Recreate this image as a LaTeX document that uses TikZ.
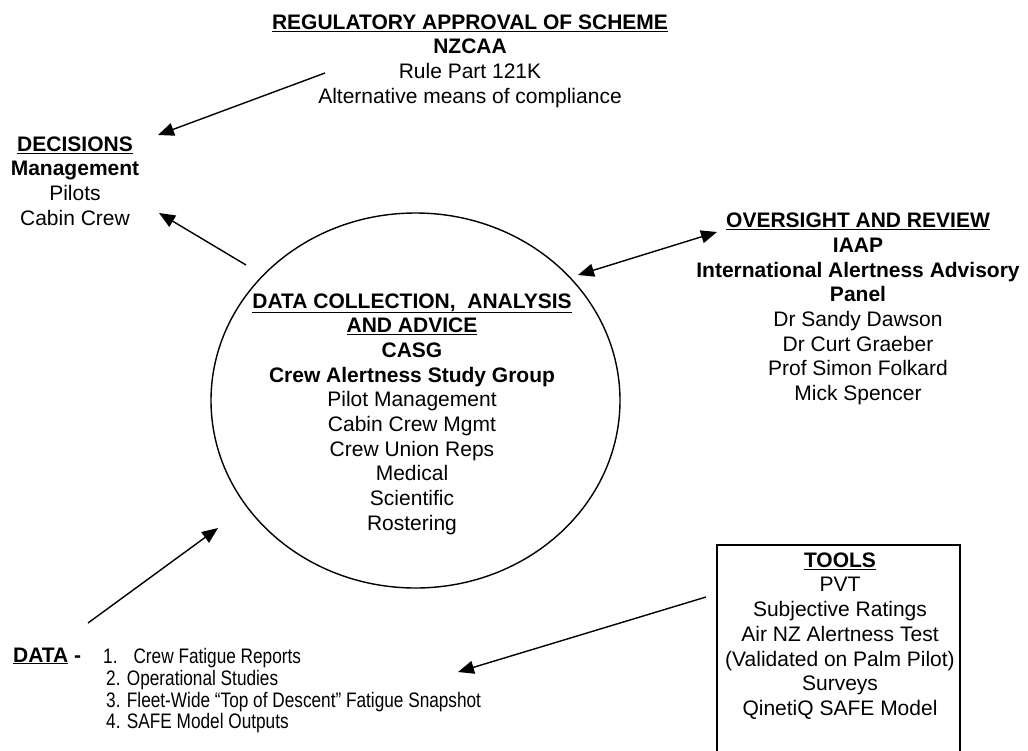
\documentclass[tikz,border=0pt]{standalone}
\usepackage{fontspec}
\setmainfont{Liberation Sans}
\newfontfamily\narrowfont[FakeStretch=0.82,Ligatures=TeX]{Liberation Sans}
\usetikzlibrary{shapes.geometric,arrows.meta}
\tikzset{
  txt/.style={align=center, inner sep=0pt, font=\fontsize{21}{24.7}\selectfont},
  arr/.style={-{Triangle[length=16pt,width=13pt]}, line width=1.4pt},
}

\begin{document}
\begin{tikzpicture}[x=1pt,y=-1pt]
\useasboundingbox (0,0) rectangle (1028,750);
% regulator
\node[txt] (reg) at (470,61) {\textbf{\underline{REGULATORY APPROVAL OF SCHEME}}\\ \textbf{NZCAA}\\ Rule Part 121K\\ Alternative means of compliance};
% decisions
\node[txt] (dec) at (75,181) {\textbf{\underline{DECISIONS}}\\ \textbf{Management}\\ Pilots\\ Cabin Crew};
% CASG circle
\node[draw, ellipse, line width=1.4pt, minimum width=409pt, minimum height=375pt] (casg) at (415.5,400.5) {};
\node[txt] (casgtxt) at (412,414) {\textbf{\underline{DATA COLLECTION,\ \ ANALYSIS}}\\ \textbf{\underline{AND ADVICE}}\\ \textbf{CASG}\\ \textbf{Crew Alertness Study Group}\\ Pilot Management\\ Cabin Crew Mgmt\\ Crew Union Reps\\ Medical\\ Scientific\\ Rostering};
% oversight
\node[txt] (iaap) at (858,309) {\textbf{\underline{OVERSIGHT AND REVIEW}}\\ \textbf{IAAP}\\ \textbf{International Alertness Advisory}\\ \textbf{Panel}\\ Dr Sandy Dawson\\ Dr Curt Graeber\\ Prof Simon Folkard\\ Mick Spencer};
% tools
\draw[line width=1.4pt] (717,770) |- (960,545) -- (960,770);
\node[txt] (tools) at (840,636) {\textbf{\underline{TOOLS}}\\ PVT\\ Subjective Ratings\\ Air NZ Alertness Test\\ (Validated on Palm Pilot)\\ Surveys\\ QinetiQ SAFE Model};
% data
\node[txt, anchor=west] (data) at (13,656) {\textbf{\underline{DATA}} \textbf{-}};
\node[inner sep=0pt, anchor=north west, align=left, font=\narrowfont\fontsize{21}{21.8}\selectfont] (datalist) at (103,648) {1.\hspace{16pt}Crew Fatigue Reports\\ \hspace{3pt}2. Operational Studies\\ \hspace{3pt}3. Fleet-Wide “Top of Descent” Fatigue Snapshot\\ \hspace{3pt}4. SAFE Model Outputs};
% arrows
\coordinate (regtail) at (325,73);
\coordinate (dectip) at (158,135);
\coordinate (casgnw) at (246,265);
\coordinate (dectip2) at (159,213);
\coordinate (casgne) at (578,275);
\coordinate (iaapw) at (717,232);
\coordinate (datatail) at (88,623);
\coordinate (casgsw) at (218,528);
\coordinate (toolsw) at (706,597);
\coordinate (datatip) at (458,672);
\draw[arr] (regtail) -- (dectip);
\draw[arr] (casgnw) -- (dectip2);
\draw[arr, {Triangle[length=16pt,width=13pt]}-{Triangle[length=16pt,width=13pt]}] (casgne) -- (iaapw);
\draw[arr] (datatail) -- (casgsw);
\draw[arr] (toolsw) -- (datatip);
\end{tikzpicture}
\end{document}
